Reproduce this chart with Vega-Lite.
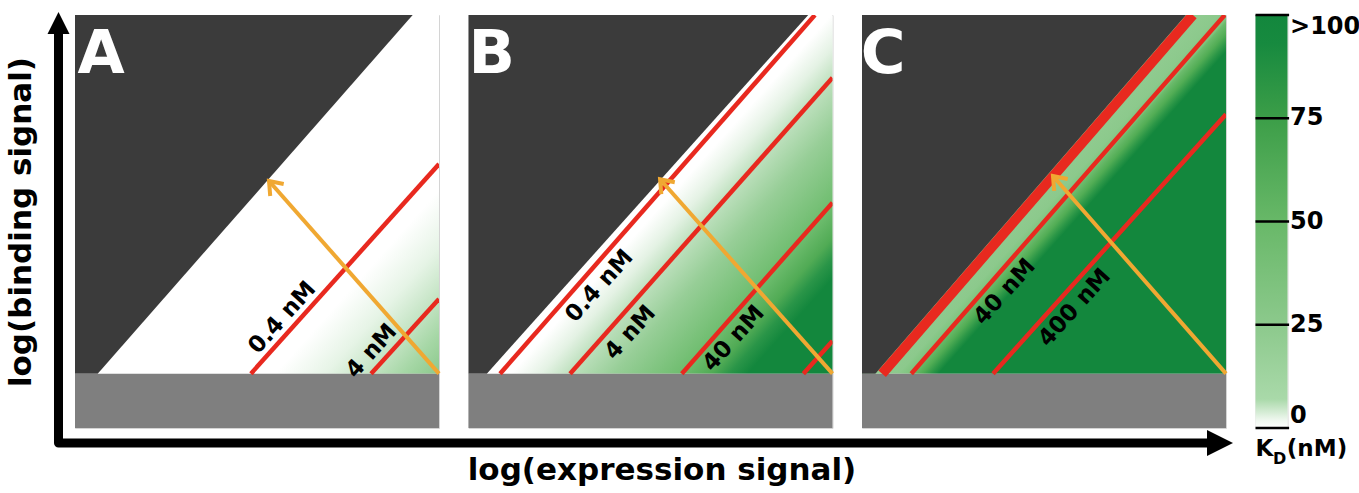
{
  "$schema": "https://vega.github.io/schema/vega-lite/v6.json",
  "background": "white",
  "padding": {"left": 5, "top": 11, "right": 0, "bottom": 0},
  "autosize": {"type": "pad"},
  "bounds": "flush",
  "spacing": 29.5,
  "config": {
    "view": {"stroke": "#d4d4d4", "strokeWidth": 1},
    "axis": {"disable": true},
    "text": {"font": "DejaVu Sans", "fontWeight": "bold"}
  },
  "hconcat": [
    {
      "width": 364,
      "height": 413,
      "layer": [
        {
          "data": {"values": [{"zone": "measurable", "x0": 0, "x1": 3, "y0": 0, "y1": 2.64}]},
          "mark": {"type": "rect", "color": {"gradient": "linear", "x1": 0.4959, "y1": 0.4364, "x2": 1.0594, "y2": 0.9322,
            "stops": [{"offset": 0, "color": "#ffffff"}, {"offset": 0.55, "color": "#ffffff"}, {"offset": 0.69, "color": "#e6f4e6"}, {"offset": 0.813, "color": "#c2e3c2"}, {"offset": 0.9, "color": "#a6d7a6"}, {"offset": 1, "color": "#8cc98c"}]}},
          "encoding": {
            "x": {"field": "x0", "type": "quantitative", "scale": {"domain": [0, 3], "nice": false, "zero": false}},
            "x2": {"field": "x1"},
            "y": {"field": "y0", "type": "quantitative", "scale": {"domain": [-0.4, 2.64], "nice": false, "zero": false}},
            "y2": {"field": "y1"}
          }
        },
        {
          "data": {"values": [{"x": 0, "lo": 0, "hi": 2.64}, {"x": 0.187, "lo": 0, "hi": 2.64}, {"x": 2.783, "lo": 2.64, "hi": 2.64}]},
          "mark": {"type": "area", "color": "#3b3b3b", "orient": "vertical"},
          "encoding": {
            "x": {"field": "x", "type": "quantitative", "scale": {"domain": [0, 3], "nice": false, "zero": false}},
            "y": {"field": "lo", "type": "quantitative", "scale": {"domain": [-0.4, 2.64], "nice": false, "zero": false}},
            "y2": {"field": "hi"}
          }
        },
        {
          "data": {"values": [{"zone": "below detection", "x0": 0, "x1": 3, "y0": -0.4, "y1": 0}]},
          "mark": {"type": "rect", "color": "#7f7f7f"},
          "encoding": {
            "x": {"field": "x0", "type": "quantitative", "scale": {"domain": [0, 3], "nice": false, "zero": false}},
            "x2": {"field": "x1"},
            "y": {"field": "y0", "type": "quantitative", "scale": {"domain": [-0.4, 2.64], "nice": false, "zero": false}},
            "y2": {"field": "y1"}
          }
        },
        {
          "data": {"values": [{"kd": "0.4 nM", "x": 1.45, "y": 0, "xe": 3, "ye": 1.543}, {"kd": "4 nM", "x": 2.44, "y": 0, "xe": 3, "ye": 0.55}]},
          "mark": {"type": "rule", "color": "#e8291f", "strokeWidth": 4.5, "clip": true},
          "encoding": {
            "x": {"field": "x", "type": "quantitative", "scale": {"domain": [0, 3], "nice": false, "zero": false}},
            "y": {"field": "y", "type": "quantitative", "scale": {"domain": [-0.4, 2.64], "nice": false, "zero": false}},
            "x2": {"field": "xe"},
            "y2": {"field": "ye"}
          }
        },
        {
          "data": {"values": [{"x": 3, "y": 0, "xe": 1.599, "ye": 1.418}]},
          "mark": {"type": "rule", "color": "#f0a832", "strokeWidth": 4},
          "encoding": {
            "x": {"field": "x", "type": "quantitative", "scale": {"domain": [0, 3], "nice": false, "zero": false}},
            "y": {"field": "y", "type": "quantitative", "scale": {"domain": [-0.4, 2.64], "nice": false, "zero": false}},
            "x2": {"field": "xe"},
            "y2": {"field": "ye"}
          }
        },
        {
          "data": {"values": [{"x": 1.599, "y": 1.418}]},
          "mark": {"type": "point", "shape": "M-0.9,1.2L0,0L0.9,1.2", "angle": 318.5, "size": 400, "filled": false, "color": "#f0a832", "strokeWidth": 4, "strokeJoin": "miter", "opacity": 1},
          "encoding": {
            "x": {"field": "x", "type": "quantitative", "scale": {"domain": [0, 3], "nice": false, "zero": false}},
            "y": {"field": "y", "type": "quantitative", "scale": {"domain": [-0.4, 2.64], "nice": false, "zero": false}}
          }
        },
        {
          "data": {"values": [{"kd": "0.4 nM", "x": 1.708, "y": 0.412}, {"kd": "4 nM", "x": 2.444, "y": 0.167}]},
          "mark": {"type": "text", "angle": 312, "fontSize": 23, "color": "black", "align": "center", "baseline": "middle"},
          "encoding": {
            "x": {"field": "x", "type": "quantitative", "scale": {"domain": [0, 3], "nice": false, "zero": false}},
            "y": {"field": "y", "type": "quantitative", "scale": {"domain": [-0.4, 2.64], "nice": false, "zero": false}},
            "text": {"field": "kd"}
          }
        },
        {
          "data": {"values": [{"panel": "A", "x": 0.02, "y": 2.213}]},
          "mark": {"type": "text", "fontSize": 61, "color": "white", "align": "left", "baseline": "alphabetic"},
          "encoding": {
            "x": {"field": "x", "type": "quantitative", "scale": {"domain": [0, 3], "nice": false, "zero": false}},
            "y": {"field": "y", "type": "quantitative", "scale": {"domain": [-0.4, 2.64], "nice": false, "zero": false}},
            "text": {"field": "panel"}
          }
        },
        {
          "data": {"values": [{"seg": 0, "x": -0.136, "y": 2.5}, {"seg": 1, "x": -0.136, "y": -0.51}, {"seg": 2, "x": 9.33, "y": -0.51}]},
          "mark": {"type": "line", "color": "black", "strokeWidth": 9, "strokeJoin": "round", "strokeCap": "butt"},
          "encoding": {
            "x": {"field": "x", "type": "quantitative", "scale": {"domain": [0, 3], "nice": false, "zero": false}},
            "y": {"field": "y", "type": "quantitative", "scale": {"domain": [-0.4, 2.64], "nice": false, "zero": false}},
            "order": {"field": "seg", "type": "quantitative"}
          }
        },
        {
          "data": {"values": [{"x": -0.136, "y": 2.581}]},
          "mark": {"type": "point", "shape": "M0,-1L1,1L-1,1Z", "size": 484, "filled": true, "color": "black", "opacity": 1},
          "encoding": {
            "x": {"field": "x", "type": "quantitative", "scale": {"domain": [0, 3], "nice": false, "zero": false}},
            "y": {"field": "y", "type": "quantitative", "scale": {"domain": [-0.4, 2.64], "nice": false, "zero": false}}
          }
        },
        {
          "data": {"values": [{"x": 9.437, "y": -0.51}]},
          "mark": {"type": "point", "shape": "M1,0L-1,-1L-1,1Z", "size": 676, "filled": true, "color": "black", "opacity": 1},
          "encoding": {
            "x": {"field": "x", "type": "quantitative", "scale": {"domain": [0, 3], "nice": false, "zero": false}},
            "y": {"field": "y", "type": "quantitative", "scale": {"domain": [-0.4, 2.64], "nice": false, "zero": false}}
          }
        },
        {
          "data": {"values": [{"title": "log(binding signal)", "x": -0.44, "y": 1.116}]},
          "mark": {"type": "text", "angle": 270, "fontSize": 31, "color": "black", "align": "center", "baseline": "middle"},
          "encoding": {
            "x": {"field": "x", "type": "quantitative", "scale": {"domain": [0, 3], "nice": false, "zero": false}},
            "y": {"field": "y", "type": "quantitative", "scale": {"domain": [-0.4, 2.64], "nice": false, "zero": false}},
            "text": {"field": "title"}
          }
        },
        {
          "data": {"values": [{"title": "log(expression signal)", "x": 4.838, "y": -0.78}]},
          "mark": {"type": "text", "fontSize": 31, "color": "black", "align": "center", "baseline": "alphabetic"},
          "encoding": {
            "x": {"field": "x", "type": "quantitative", "scale": {"domain": [0, 3], "nice": false, "zero": false}},
            "y": {"field": "y", "type": "quantitative", "scale": {"domain": [-0.4, 2.64], "nice": false, "zero": false}},
            "text": {"field": "title"}
          }
        }
      ]
    },
    {
      "width": 364,
      "height": 413,
      "layer": [
        {
          "data": {"values": [{"zone": "measurable", "x0": 0, "x1": 3, "y0": 0, "y1": 2.64}]},
          "mark": {"type": "rect", "color": {"gradient": "linear", "x1": 0.4959, "y1": 0.4364, "x2": 1.0594, "y2": 0.9322,
            "stops": [{"offset": 0, "color": "#ffffff"}, {"offset": 0.117, "color": "#ffffff"}, {"offset": 0.2, "color": "#e4f2e4"}, {"offset": 0.283, "color": "#bbdfbb"}, {"offset": 0.4, "color": "#97ce97"}, {"offset": 0.583, "color": "#6fbd6f"}, {"offset": 0.667, "color": "#51ab55"}, {"offset": 0.717, "color": "#2a9548"}, {"offset": 0.767, "color": "#13873d"}, {"offset": 1, "color": "#13873d"}]}},
          "encoding": {
            "x": {"field": "x0", "type": "quantitative", "scale": {"domain": [0, 3], "nice": false, "zero": false}},
            "x2": {"field": "x1"},
            "y": {"field": "y0", "type": "quantitative", "scale": {"domain": [-0.4, 2.64], "nice": false, "zero": false}},
            "y2": {"field": "y1"}
          }
        },
        {
          "data": {"values": [{"x": 0, "lo": 0, "hi": 2.64}, {"x": 0.151, "lo": 0, "hi": 2.64}, {"x": 2.8, "lo": 2.64, "hi": 2.64}]},
          "mark": {"type": "area", "color": "#3b3b3b", "orient": "vertical"},
          "encoding": {
            "x": {"field": "x", "type": "quantitative", "scale": {"domain": [0, 3], "nice": false, "zero": false}},
            "y": {"field": "lo", "type": "quantitative", "scale": {"domain": [-0.4, 2.64], "nice": false, "zero": false}},
            "y2": {"field": "hi"}
          }
        },
        {
          "data": {"values": [{"zone": "below detection", "x0": 0, "x1": 3, "y0": -0.4, "y1": 0}]},
          "mark": {"type": "rect", "color": "#7f7f7f"},
          "encoding": {
            "x": {"field": "x0", "type": "quantitative", "scale": {"domain": [0, 3], "nice": false, "zero": false}},
            "x2": {"field": "x1"},
            "y": {"field": "y0", "type": "quantitative", "scale": {"domain": [-0.4, 2.64], "nice": false, "zero": false}},
            "y2": {"field": "y1"}
          }
        },
        {
          "data": {"values": [{"kd": "0.4 nM", "x": 0.26, "y": 0, "xe": 2.855, "ye": 2.64}, {"kd": "4 nM", "x": 0.837, "y": 0, "xe": 3, "ye": 2.178}, {"kd": "40 nM", "x": 1.758, "y": 0, "xe": 3, "ye": 1.259}, {"kd": "400 nM", "x": 2.76, "y": 0, "xe": 3, "ye": 0.24}]},
          "mark": {"type": "rule", "color": "#e8291f", "strokeWidth": 4.5, "clip": true},
          "encoding": {
            "x": {"field": "x", "type": "quantitative", "scale": {"domain": [0, 3], "nice": false, "zero": false}},
            "y": {"field": "y", "type": "quantitative", "scale": {"domain": [-0.4, 2.64], "nice": false, "zero": false}},
            "x2": {"field": "xe"},
            "y2": {"field": "ye"}
          }
        },
        {
          "data": {"values": [{"x": 3, "y": 0, "xe": 1.579, "ye": 1.431}]},
          "mark": {"type": "rule", "color": "#f0a832", "strokeWidth": 4},
          "encoding": {
            "x": {"field": "x", "type": "quantitative", "scale": {"domain": [0, 3], "nice": false, "zero": false}},
            "y": {"field": "y", "type": "quantitative", "scale": {"domain": [-0.4, 2.64], "nice": false, "zero": false}},
            "x2": {"field": "xe"},
            "y2": {"field": "ye"}
          }
        },
        {
          "data": {"values": [{"x": 1.579, "y": 1.431}]},
          "mark": {"type": "point", "shape": "M-0.9,1.2L0,0L0.9,1.2", "angle": 318.5, "size": 400, "filled": false, "color": "#f0a832", "strokeWidth": 4, "strokeJoin": "miter", "opacity": 1},
          "encoding": {
            "x": {"field": "x", "type": "quantitative", "scale": {"domain": [0, 3], "nice": false, "zero": false}},
            "y": {"field": "y", "type": "quantitative", "scale": {"domain": [-0.4, 2.64], "nice": false, "zero": false}}
          }
        },
        {
          "data": {"values": [{"kd": "0.4 nM", "x": 1.078, "y": 0.645}, {"kd": "4 nM", "x": 1.332, "y": 0.302}, {"kd": "40 nM", "x": 2.184, "y": 0.259}]},
          "mark": {"type": "text", "angle": 312, "fontSize": 23, "color": "black", "align": "center", "baseline": "middle"},
          "encoding": {
            "x": {"field": "x", "type": "quantitative", "scale": {"domain": [0, 3], "nice": false, "zero": false}},
            "y": {"field": "y", "type": "quantitative", "scale": {"domain": [-0.4, 2.64], "nice": false, "zero": false}},
            "text": {"field": "kd"}
          }
        },
        {
          "data": {"values": [{"panel": "B", "x": 0.0, "y": 2.213}]},
          "mark": {"type": "text", "fontSize": 61, "color": "white", "align": "left", "baseline": "alphabetic"},
          "encoding": {
            "x": {"field": "x", "type": "quantitative", "scale": {"domain": [0, 3], "nice": false, "zero": false}},
            "y": {"field": "y", "type": "quantitative", "scale": {"domain": [-0.4, 2.64], "nice": false, "zero": false}},
            "text": {"field": "panel"}
          }
        }
      ]
    },
    {
      "width": 364,
      "height": 413,
      "layer": [
        {
          "data": {"values": [{"zone": "measurable", "x0": 0, "x1": 3, "y0": 0, "y1": 2.64}]},
          "mark": {"type": "rect", "color": {"gradient": "linear", "x1": 0.4959, "y1": 0.4364, "x2": 1.0594, "y2": 0.9322,
            "stops": [{"offset": 0, "color": "#93cd93"}, {"offset": 0.1, "color": "#8cc98c"}, {"offset": 0.13, "color": "#7ec47e"}, {"offset": 0.137, "color": "#6cbb6c"}, {"offset": 0.165, "color": "#52ad55"}, {"offset": 0.19, "color": "#2c9747"}, {"offset": 0.21, "color": "#13873d"}, {"offset": 1, "color": "#13873d"}]}},
          "encoding": {
            "x": {"field": "x0", "type": "quantitative", "scale": {"domain": [0, 3], "nice": false, "zero": false}},
            "x2": {"field": "x1"},
            "y": {"field": "y0", "type": "quantitative", "scale": {"domain": [-0.4, 2.64], "nice": false, "zero": false}},
            "y2": {"field": "y1"}
          }
        },
        {
          "data": {"values": [{"x": 0, "lo": 0, "hi": 2.64}, {"x": 0.11, "lo": 0, "hi": 2.64}, {"x": 2.67, "lo": 2.64, "hi": 2.64}]},
          "mark": {"type": "area", "color": "#3b3b3b", "orient": "vertical"},
          "encoding": {
            "x": {"field": "x", "type": "quantitative", "scale": {"domain": [0, 3], "nice": false, "zero": false}},
            "y": {"field": "lo", "type": "quantitative", "scale": {"domain": [-0.4, 2.64], "nice": false, "zero": false}},
            "y2": {"field": "hi"}
          }
        },
        {
          "data": {"values": [{"zone": "below detection", "x0": 0, "x1": 3, "y0": -0.4, "y1": 0}]},
          "mark": {"type": "rect", "color": "#7f7f7f"},
          "encoding": {
            "x": {"field": "x0", "type": "quantitative", "scale": {"domain": [0, 3], "nice": false, "zero": false}},
            "x2": {"field": "x1"},
            "y": {"field": "y0", "type": "quantitative", "scale": {"domain": [-0.4, 2.64], "nice": false, "zero": false}},
            "y2": {"field": "y1"}
          }
        },
        {
          "data": {"values": [{"kd": "4 nM", "x": 0.166, "y": 0, "xe": 2.727, "ye": 2.64}]},
          "mark": {"type": "rule", "color": "#e8291f", "strokeWidth": 10, "clip": true},
          "encoding": {
            "x": {"field": "x", "type": "quantitative", "scale": {"domain": [0, 3], "nice": false, "zero": false}},
            "y": {"field": "y", "type": "quantitative", "scale": {"domain": [-0.4, 2.64], "nice": false, "zero": false}},
            "x2": {"field": "xe"},
            "y2": {"field": "ye"}
          }
        },
        {
          "data": {"values": [{"kd": "40 nM", "x": 0.406, "y": 0, "xe": 2.99, "ye": 2.64}, {"kd": "400 nM", "x": 1.08, "y": 0, "xe": 3, "ye": 1.909}]},
          "mark": {"type": "rule", "color": "#e8291f", "strokeWidth": 4.5, "clip": true},
          "encoding": {
            "x": {"field": "x", "type": "quantitative", "scale": {"domain": [0, 3], "nice": false, "zero": false}},
            "y": {"field": "y", "type": "quantitative", "scale": {"domain": [-0.4, 2.64], "nice": false, "zero": false}},
            "x2": {"field": "xe"},
            "y2": {"field": "ye"}
          }
        },
        {
          "data": {"values": [{"x": 3, "y": 0, "xe": 1.574, "ye": 1.455}]},
          "mark": {"type": "rule", "color": "#f0a832", "strokeWidth": 4},
          "encoding": {
            "x": {"field": "x", "type": "quantitative", "scale": {"domain": [0, 3], "nice": false, "zero": false}},
            "y": {"field": "y", "type": "quantitative", "scale": {"domain": [-0.4, 2.64], "nice": false, "zero": false}},
            "x2": {"field": "xe"},
            "y2": {"field": "ye"}
          }
        },
        {
          "data": {"values": [{"x": 1.574, "y": 1.455}]},
          "mark": {"type": "point", "shape": "M-0.9,1.2L0,0L0.9,1.2", "angle": 318.5, "size": 400, "filled": false, "color": "#f0a832", "strokeWidth": 4, "strokeJoin": "miter", "opacity": 1},
          "encoding": {
            "x": {"field": "x", "type": "quantitative", "scale": {"domain": [0, 3], "nice": false, "zero": false}},
            "y": {"field": "y", "type": "quantitative", "scale": {"domain": [-0.4, 2.64], "nice": false, "zero": false}}
          }
        },
        {
          "data": {"values": [{"kd": "40 nM", "x": 1.175, "y": 0.603}, {"kd": "400 nM", "x": 1.752, "y": 0.486}]},
          "mark": {"type": "text", "angle": 312, "fontSize": 23, "color": "black", "align": "center", "baseline": "middle"},
          "encoding": {
            "x": {"field": "x", "type": "quantitative", "scale": {"domain": [0, 3], "nice": false, "zero": false}},
            "y": {"field": "y", "type": "quantitative", "scale": {"domain": [-0.4, 2.64], "nice": false, "zero": false}},
            "text": {"field": "kd"}
          }
        },
        {
          "data": {"values": [{"panel": "C", "x": -0.01, "y": 2.213}]},
          "mark": {"type": "text", "fontSize": 61, "color": "white", "align": "left", "baseline": "alphabetic"},
          "encoding": {
            "x": {"field": "x", "type": "quantitative", "scale": {"domain": [0, 3], "nice": false, "zero": false}},
            "y": {"field": "y", "type": "quantitative", "scale": {"domain": [-0.4, 2.64], "nice": false, "zero": false}},
            "text": {"field": "panel"}
          }
        }
      ]
    },
    {
      "width": 32,
      "height": 413,
      "layer": [
        {
          "data": {"values": [{"x0": 0, "x1": 1, "k0": 0, "k1": 100}]},
          "mark": {"type": "rect", "color": {"gradient": "linear", "x1": 0, "y1": 1, "x2": 0, "y2": 0,
            "stops": [{"offset": 0, "color": "#ffffff"}, {"offset": 0.02, "color": "#eef7ee"}, {"offset": 0.07, "color": "#a9d9a9"}, {"offset": 0.25, "color": "#8cc98c"}, {"offset": 0.5, "color": "#68b868"}, {"offset": 0.75, "color": "#3c9e48"}, {"offset": 0.93, "color": "#178a3f"}, {"offset": 1, "color": "#13873d"}]}},
          "encoding": {
            "x": {"field": "x0", "type": "quantitative", "scale": {"domain": [0, 1], "nice": false, "zero": false}},
            "x2": {"field": "x1"},
            "y": {"field": "k0", "type": "quantitative", "scale": {"domain": [0, 100], "nice": false, "zero": false}},
            "y2": {"field": "k1"}
          }
        },
        {
          "data": {"values": [{"k": 0}, {"k": 25}, {"k": 50}, {"k": 75}, {"k": 100}]},
          "mark": {"type": "rule", "color": "black", "strokeWidth": 2.5},
          "encoding": {
            "x": {"datum": 0, "type": "quantitative", "scale": {"domain": [0, 1], "nice": false, "zero": false}},
            "x2": {"datum": 1.05},
            "y": {"field": "k", "type": "quantitative", "scale": {"domain": [0, 100], "nice": false, "zero": false}}
          }
        },
        {
          "data": {"values": [{"k": 25, "label": "25"}, {"k": 50, "label": "50"}, {"k": 75, "label": "75"}]},
          "mark": {"type": "text", "fontSize": 24, "color": "black", "align": "left", "baseline": "middle"},
          "encoding": {
            "x": {"datum": 1.08, "type": "quantitative", "scale": {"domain": [0, 1], "nice": false, "zero": false}},
            "y": {"field": "k", "type": "quantitative", "scale": {"domain": [0, 100], "nice": false, "zero": false}},
            "text": {"field": "label"}
          }
        },
        {
          "data": {"values": [{"k": 100, "label": ">100"}]},
          "mark": {"type": "text", "fontSize": 24, "color": "black", "align": "left", "baseline": "top"},
          "encoding": {
            "x": {"datum": 1.08, "type": "quantitative", "scale": {"domain": [0, 1], "nice": false, "zero": false}},
            "y": {"field": "k", "type": "quantitative", "scale": {"domain": [0, 100], "nice": false, "zero": false}},
            "text": {"field": "label"}
          }
        },
        {
          "data": {"values": [{"k": 0, "label": "0"}]},
          "mark": {"type": "text", "fontSize": 24, "color": "black", "align": "left", "baseline": "bottom"},
          "encoding": {
            "x": {"datum": 1.08, "type": "quantitative", "scale": {"domain": [0, 1], "nice": false, "zero": false}},
            "y": {"field": "k", "type": "quantitative", "scale": {"domain": [0, 100], "nice": false, "zero": false}},
            "text": {"field": "label"}
          }
        },
        {
          "data": {"values": [{"part": "K", "x": 0.0, "y": -6.9}, {"part": "(nM)", "x": 0.98, "y": -6.9}]},
          "mark": {"type": "text", "fontSize": 23, "color": "black", "align": "left", "baseline": "alphabetic"},
          "encoding": {
            "x": {"field": "x", "type": "quantitative", "scale": {"domain": [0, 1], "nice": false, "zero": false}},
            "y": {"field": "y", "type": "quantitative", "scale": {"domain": [0, 100], "nice": false, "zero": false}},
            "text": {"field": "part"}
          }
        },
        {
          "data": {"values": [{"part": "D", "x": 0.55, "y": -8.8}]},
          "mark": {"type": "text", "fontSize": 16, "color": "black", "align": "left", "baseline": "alphabetic"},
          "encoding": {
            "x": {"field": "x", "type": "quantitative", "scale": {"domain": [0, 1], "nice": false, "zero": false}},
            "y": {"field": "y", "type": "quantitative", "scale": {"domain": [0, 100], "nice": false, "zero": false}},
            "text": {"field": "part"}
          }
        }
      ]
    }
  ]
}
